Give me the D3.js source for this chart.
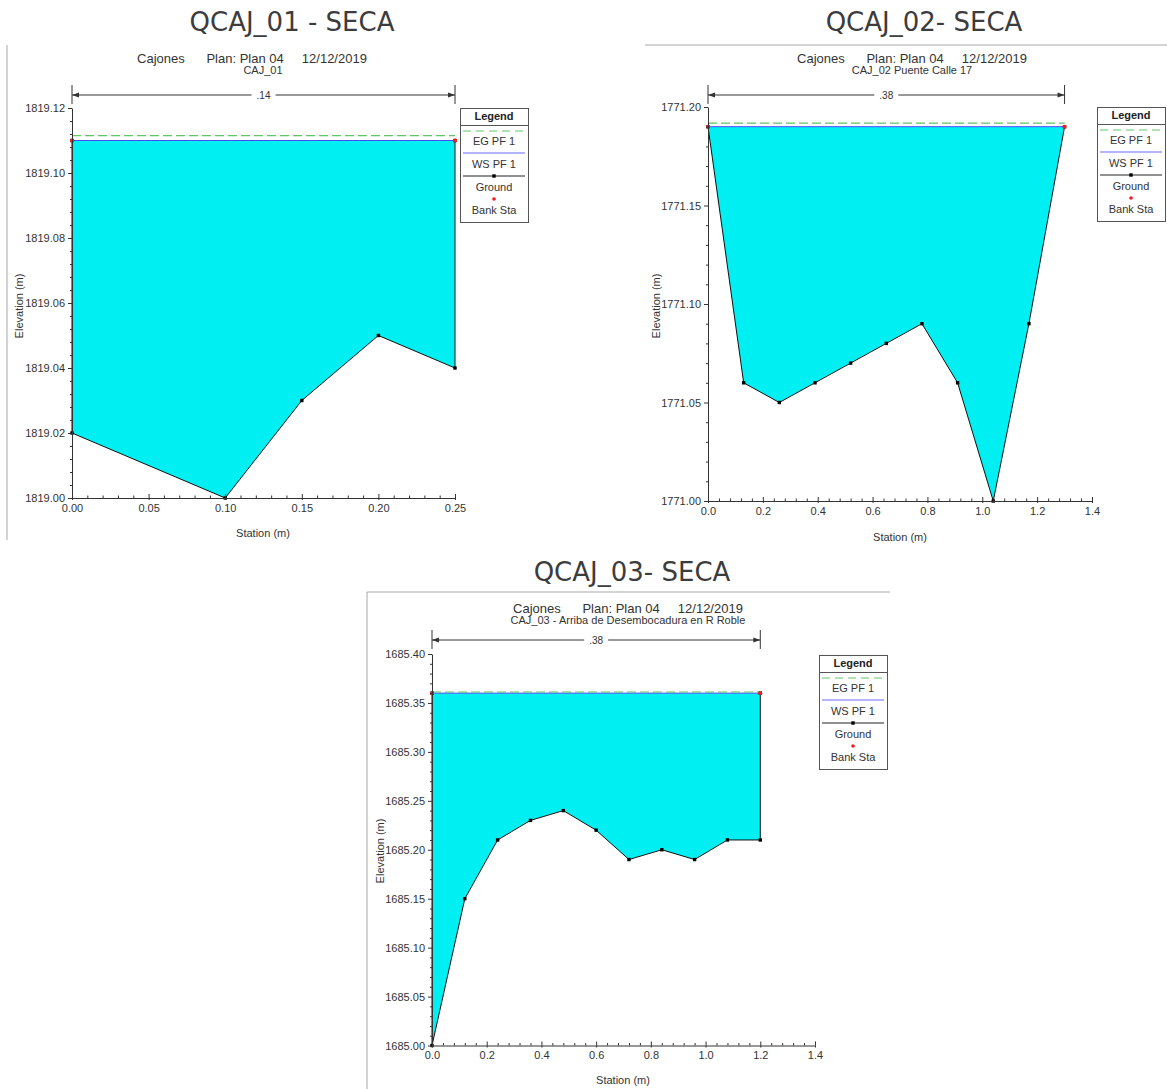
<!DOCTYPE html>
<html><head><meta charset="utf-8">
<script src="https://cdn.jsdelivr.net/npm/d3@7"></script>
<style>body{margin:0;background:#fff}</style>
</head><body>
<svg id="c" width="1167" height="1089"></svg>
<script>
// ---------- DATA ----------
const pageTitles = ["QCAJ_01 - SECA", "QCAJ_02- SECA", "QCAJ_03- SECA"];
const planLine = "Cajones      Plan: Plan 04     12/12/2019";
const sectionNames = ["CAJ_01", "CAJ_02 Puente Calle 17", "CAJ_03 - Arriba de Desembocadura en R Roble"];
const topWidthLabels = [".14", ".38", ".38"];
const legendLabels = ["EG PF 1", "WS PF 1", "Ground", "Bank Sta"];
const xAxisTitle = "Station (m)";
const yAxisTitle = "Elevation (m)";

const station1 = [0, 0, 0.10, 0.15, 0.20, 0.25, 0.25];
const ground1  = [1819.11, 1819.02, 1819.00, 1819.03, 1819.05, 1819.04, 1819.11];
const station2 = [0, 0.13, 0.26, 0.39, 0.52, 0.65, 0.78, 0.91, 1.04, 1.17, 1.30];
const ground2  = [1771.19, 1771.06, 1771.05, 1771.06, 1771.07, 1771.08, 1771.09, 1771.06, 1771.00, 1771.09, 1771.19];
const station3 = [0, 0, 0.12, 0.24, 0.36, 0.48, 0.60, 0.72, 0.84, 0.96, 1.08, 1.20, 1.20];
const ground3  = [1685.36, 1685.00, 1685.15, 1685.21, 1685.23, 1685.24, 1685.22, 1685.19, 1685.20, 1685.19, 1685.21, 1685.21, 1685.36];

const wsElev = [1819.11, 1771.19, 1685.36];
const egElev = [1819.1115, 1771.1918, 1685.3612];
const bankStations1 = [0, 0.25];
const bankStations2 = [0, 1.30];
const bankStations3 = [0, 1.20];

const xTicks1 = [0, 0.05, 0.10, 0.15, 0.20, 0.25];
const xTicks2 = [0, 0.2, 0.4, 0.6, 0.8, 1.0, 1.2, 1.4];
const xTicks3 = [0, 0.2, 0.4, 0.6, 0.8, 1.0, 1.2, 1.4];
const yTicks1 = [1819.00, 1819.02, 1819.04, 1819.06, 1819.08, 1819.10, 1819.12];
const yTicks2 = [1771.00, 1771.05, 1771.10, 1771.15, 1771.20];
const yTicks3 = [1685.00, 1685.05, 1685.10, 1685.15, 1685.20, 1685.25, 1685.30, 1685.35, 1685.40];

// ---------- LAYOUT ----------
const stations = [station1, station2, station3];
const grounds = [ground1, ground2, ground3];
const banks = [bankStations1, bankStations2, bankStations3];
const xTicksAll = [xTicks1, xTicks2, xTicks3];
const yTicksAll = [yTicks1, yTicks2, yTicks3];

const layout = [
  {xr:[72,455], yr:[498,108], xMinorN:5, yMinorN:5, xFmt:".2f", yFmt:".2f",
   head:[292,31], plan:[252,63], sec:[263,74], dimY:95, leg:[460,108], elev:[20,306], stat:[263,537]},
  {xr:[708,1092], yr:[501,107], xMinorN:5, yMinorN:5, xFmt:".1f", yFmt:".2f",
   head:[924,31], plan:[912,63], sec:[912,74], dimY:95, leg:[1097,107], elev:[657,306], stat:[900,541]},
  {xr:[432,815], yr:[1045.5,654], xMinorN:5, yMinorN:5, xFmt:".1f", yFmt:".2f",
   head:[632,581], plan:[628,613], sec:[628,624], dimY:640, leg:[819,655], elev:[381,851], stat:[623,1084]}
];
const frames = [[7,45,7,540],[645,45,1167,45],[367,592,367,1089],[367,592,890,592]];

const FONT = "'Liberation Sans', Arial, sans-serif";
const CYAN = "#00eff2";
const TXT = "#333";

const svg = d3.select("#c");
svg.append("rect").attr("width",1167).attr("height",1089).attr("fill","#fff");

svg.selectAll("line.frame").data(frames).join("line").attr("class","frame")
  .attr("x1",d=>d[0]).attr("y1",d=>d[1]).attr("x2",d=>d[2]).attr("y2",d=>d[3])
  .attr("stroke","#a8a8a8").attr("stroke-width",1);

function minorValues(ticks, n) {
  const out = [];
  for (let i = 0; i < ticks.length - 1; i++) {
    const a = ticks[i], b = ticks[i+1];
    for (let k = 1; k < n; k++) out.push(a + (b - a) * k / n);
  }
  return out;
}

layout.forEach((L, i) => {
  const xT = xTicksAll[i], yT = yTicksAll[i];
  const x = d3.scaleLinear().domain([xT[0], xT[xT.length-1]]).range(L.xr);
  const y = d3.scaleLinear().domain([yT[0], yT[yT.length-1]]).range(L.yr);
  const g = svg.append("g");
  const pts = stations[i].map((s, j) => [s, grounds[i][j]]);
  const bk = banks[i];

  // page header
  g.append("text").attr("x",L.head[0]).attr("y",L.head[1]).attr("text-anchor","middle")
    .attr("font-family","'DejaVu Sans', Verdana, sans-serif").attr("font-size",26).attr("fill","#3c3c3c")
    .text(pageTitles[i]);
  // plot titles
  g.append("text").attr("x",L.plan[0]).attr("y",L.plan[1]).attr("text-anchor","middle")
    .attr("font-family",FONT).attr("font-size",13).attr("fill",TXT).style("white-space","pre")
    .text(planLine);
  g.append("text").attr("x",L.sec[0]).attr("y",L.sec[1]).attr("text-anchor","middle")
    .attr("font-family",FONT).attr("font-size",11).attr("fill",TXT)
    .text(sectionNames[i]);

  // water fill
  const line = d3.line().x(d => x(d[0])).y(d => y(d[1]));
  g.append("path").attr("d", line(pts) + "Z").attr("fill", CYAN).attr("stroke","none");
  // WS line
  g.append("path").attr("d", line([[bk[0], wsElev[i]],[bk[1], wsElev[i]]]))
    .attr("stroke","#4a4aff").attr("stroke-width",1).attr("fill","none");
  // EG line
  g.append("path").attr("d", line([[bk[0], egElev[i]],[bk[1], egElev[i]]]))
    .attr("stroke","#62c462").attr("stroke-width",1.2).attr("stroke-dasharray","9,4").attr("fill","none");
  // ground line
  g.append("path").attr("d", line(pts)).attr("stroke","#111").attr("stroke-width",1).attr("fill","none");
  g.selectAll("rect.gp").data(pts).join("rect").attr("class","gp")
    .attr("x",d=>x(d[0])-1.7).attr("y",d=>y(d[1])-1.7).attr("width",3.4).attr("height",3.4).attr("fill","#000");
  // bank stations
  g.selectAll("circle.bk").data(bk).join("circle").attr("class","bk")
    .attr("cx",d=>x(d)).attr("cy",y(wsElev[i])).attr("r",2).attr("fill","#ff1a1a");

  // axes
  const yAx = d3.axisLeft(y).tickValues(yT).tickFormat(d3.format(L.yFmt)).tickSize(4).tickSizeOuter(0).tickPadding(3);
  const ya = g.append("g").attr("transform",`translate(${L.xr[0]},0)`).call(yAx);
  const yMin = d3.axisLeft(y).tickValues(minorValues(yT, L.yMinorN)).tickFormat("").tickSize(2).tickSizeOuter(0);
  const ym = g.append("g").attr("transform",`translate(${L.xr[0]},0)`).call(yMin);
  ym.select(".domain").remove();
  const xAx = d3.axisBottom(x).tickValues(xT).tickFormat(d3.format(L.xFmt)).tickSize(-4).tickSizeOuter(0).tickPadding(6);
  const xa = g.append("g").attr("transform",`translate(0,${L.yr[0]})`).call(xAx);
  const xMin = d3.axisBottom(x).tickValues(minorValues(xT, L.xMinorN)).tickFormat("").tickSize(-2.5).tickSizeOuter(0);
  const xm = g.append("g").attr("transform",`translate(0,${L.yr[0]})`).call(xMin);
  xm.select(".domain").remove();
  [ya, ym, xa, xm].forEach(a => {
    a.selectAll("path,line").attr("stroke","#333");
    a.selectAll("text").attr("font-family",FONT).attr("font-size",11).attr("fill",TXT);
  });
  xa.selectAll(".tick").append("line").attr("y1",0).attr("y2",2).attr("stroke","#333");

  g.append("text").attr("transform",`translate(${L.elev[0]},${L.elev[1]}) rotate(-90)`)
    .attr("text-anchor","middle").attr("dominant-baseline","middle")
    .attr("font-family",FONT).attr("font-size",11).attr("fill",TXT).text(yAxisTitle);
  g.append("text").attr("x",L.stat[0]).attr("y",L.stat[1]).attr("text-anchor","middle")
    .attr("font-family",FONT).attr("font-size",11).attr("fill",TXT).text(xAxisTitle);

  // top-width dimension line
  const xa0 = x(bk[0]), xa1 = x(bk[1]), dy = L.dimY, xm0 = (xa0 + xa1) / 2;
  const dg = g.append("g").attr("stroke","#333").attr("fill","#333");
  dg.append("line").attr("x1",xa0).attr("x2",xm0-12).attr("y1",dy).attr("y2",dy);
  dg.append("line").attr("x1",xm0+12).attr("x2",xa1).attr("y1",dy).attr("y2",dy);
  dg.append("line").attr("x1",xa0).attr("x2",xa0).attr("y1",dy-10).attr("y2",dy+9);
  dg.append("line").attr("x1",xa1).attr("x2",xa1).attr("y1",dy-10).attr("y2",dy+9);
  dg.append("path").attr("d",`M${xa0},${dy}L${xa0+7},${dy-2.5}L${xa0+7},${dy+2.5}Z`).attr("stroke","none");
  dg.append("path").attr("d",`M${xa1},${dy}L${xa1-7},${dy-2.5}L${xa1-7},${dy+2.5}Z`).attr("stroke","none");
  g.append("text").attr("x",xm0).attr("y",dy+3.5).attr("text-anchor","middle")
    .attr("font-family",FONT).attr("font-size",10).attr("fill",TXT).text(topWidthLabels[i]);

  // legend
  const lx = L.leg[0], ly = L.leg[1], lw = 68;
  const lg = g.append("g");
  lg.append("rect").attr("x",lx+0.5).attr("y",ly+0.5).attr("width",lw).attr("height",114)
    .attr("fill","#fff").attr("stroke","#555");
  lg.append("text").attr("x",lx+lw/2).attr("y",ly+12).attr("text-anchor","middle")
    .attr("font-family",FONT).attr("font-size",11).attr("font-weight","bold").attr("fill","#222").text("Legend");
  lg.append("line").attr("x1",lx).attr("x2",lx+lw).attr("y1",ly+17.5).attr("y2",ly+17.5).attr("stroke","#555");
  lg.append("line").attr("x1",lx+3).attr("x2",lx+lw-3).attr("y1",ly+23).attr("y2",ly+23)
    .attr("stroke","#62c462").attr("stroke-dasharray","8,5");
  lg.append("line").attr("x1",lx+3).attr("x2",lx+lw-3).attr("y1",ly+45).attr("y2",ly+45).attr("stroke","#6a6aff");
  lg.append("line").attr("x1",lx+3).attr("x2",lx+lw-3).attr("y1",ly+68).attr("y2",ly+68).attr("stroke","#222");
  lg.append("rect").attr("x",lx+lw/2-1.7).attr("y",ly+66.3).attr("width",3.4).attr("height",3.4).attr("fill","#000");
  lg.append("circle").attr("cx",lx+lw/2).attr("cy",ly+91).attr("r",1.8).attr("fill","#ff1a1a");
  const ty = [37, 60, 83, 106];
  legendLabels.forEach((t, k) => {
    lg.append("text").attr("x",lx+lw/2).attr("y",ly+ty[k]).attr("text-anchor","middle")
      .attr("font-family",FONT).attr("font-size",11).attr("fill","#333").text(t);
  });
});
</script>
</body></html>
